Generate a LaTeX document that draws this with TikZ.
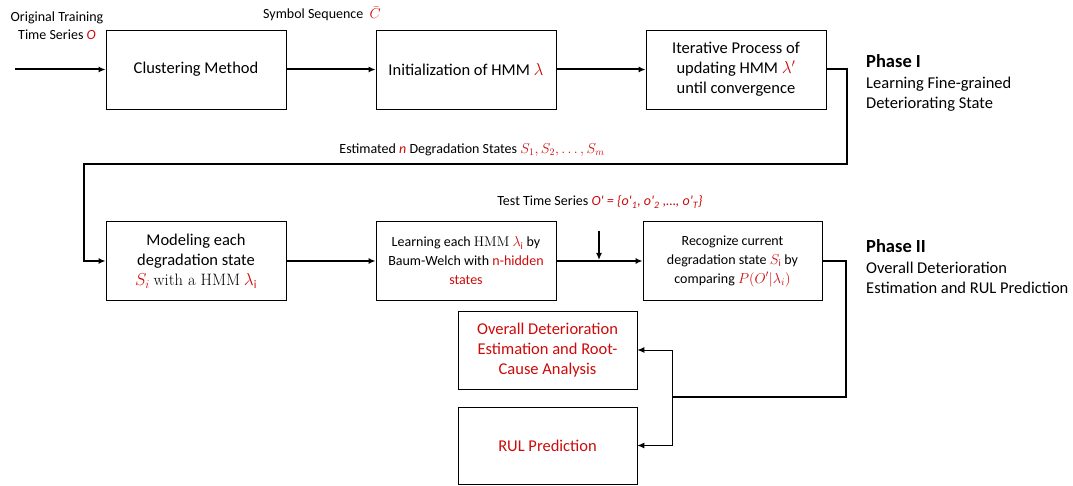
\documentclass[tikz,border=0pt]{standalone}
\usepackage{fontspec}
\setmainfont{Carlito}
\newfontfamily\serifx{Latin Modern Roman}
\usetikzlibrary{arrows.meta}
\definecolor{myred}{RGB}{204,10,10}
\newcommand{\rd}[1]{\textcolor{myred}{#1}}
\begin{document}
\begin{tikzpicture}[x=1pt,y=-1pt,
  box/.style={draw,line width=0.8pt,minimum width=180pt,minimum height=79pt,align=center,inner sep=2pt,
    font=\fontsize{16.5}{20}\selectfont},
  sbox/.style={box,font=\fontsize{14}{19}\selectfont},
  lbl/.style={align=center,inner sep=0pt,font=\fontsize{14}{18}\selectfont},
  phase/.style={align=left,anchor=west,inner sep=0pt,font=\fontsize{16.5}{20.5}\selectfont},
  flow/.style={line width=2pt,-{Latex[length=7pt,width=6pt]}},
  thin/.style={line width=1pt,-{Latex[length=7pt,width=6pt]}}]
\useasboundingbox (0,0) rectangle (1073,486);
% Phase I boxes
\node[box] (b1) at (196,69.5) {Clustering Method};
\node[box] (b2) at (466,69.5) {Initialization of HMM \rd{$\lambda$}};
\node[box] (b3) at (736,69.5) {Iterative Process of\\updating HMM \rd{$\lambda'$}\\until convergence};
% Phase II boxes
\node[box] (b4) at (196,261) {Modeling each\\degradation state\\\rd{$S_i$} {\serifx with a HMM} \rd{$\lambda_{\mathrm{i}}$}};
\node[sbox] (b5) at (466,261) {Learning each {\serifx HMM} \rd{$\lambda_{\mathrm{i}}$} by\\Baum-Welch with \rd{n-hidden}\\\rd{states}};
\node[sbox,minimum width=179pt] (b6) at (732.5,261) {Recognize current\\degradation state \rd{$S_{\mathrm{i}}$} by\\comparing \rd{$P(O'|\lambda_i)$}};
\node[box,minimum width=179pt,minimum height=78pt] (b7) at (547.5,350) {\rd{Overall Deterioration}\\\rd{Estimation and Root-}\\\rd{Cause Analysis}};
\node[box,minimum width=179pt,minimum height=77pt] (b8) at (547.5,445.5) {\rd{RUL Prediction}};
% labels
\node[lbl] (l1) at (57,26) {Original Training\\Time Series \rd{\textit{O}}};
\node[lbl] (l2) at (322,14) {Symbol Sequence \ \rd{$\bar{C}$}};
\node[lbl] (l3) at (472,150) {Estimated \rd{\textit{n}} Degradation States \rd{$S_1, S_2, \ldots, S_m$}};
\node[lbl] (l4) at (600,202) {Test Time Series \rd{\textit{O\textquotesingle\ = \{o\textquotesingle\textsubscript{1}, o\textquotesingle\textsubscript{2} ,\ldots, o\textquotesingle\textsubscript{T}\}}}};
\node[phase] (p1) at (866,83) {\textbf{\fontsize{18.5}{20.5}\selectfont Phase I}\\Learning Fine-grained\\Deteriorating State};
\node[phase] (p2) at (866,267) {\textbf{\fontsize{18.5}{20.5}\selectfont Phase II}\\Overall Deterioration\\Estimation and RUL Prediction};
% coordinates
\coordinate (in) at (15,69.5);
\coordinate (c1) at (847,164);
\coordinate (c2) at (84,164);
\coordinate (t1) at (599,231);
\coordinate (t2) at (599,260);
\coordinate (c3) at (846,397);
\coordinate (j) at (672,397);
% connectors
\draw[flow] (in) -- (b1.west);
\draw[flow] (b1) -- (b2);
\draw[flow] (b2) -- (b3);
\draw[flow] (b3.east) -| (c1) -- (c2) |- (b4.west);
\draw[flow] (b4) -- (b5);
\draw[flow] (b5) -- (b6);
\draw[line width=1.4pt,-{Latex[length=7pt,width=6pt]}] (t1) -- (t2);
\draw[line width=2pt] (b6.east) -| (c3) -- (j);
\draw[thin] (j) |- (b7.east);
\draw[thin] (j) |- (b8.east);
\end{tikzpicture}
\end{document}
